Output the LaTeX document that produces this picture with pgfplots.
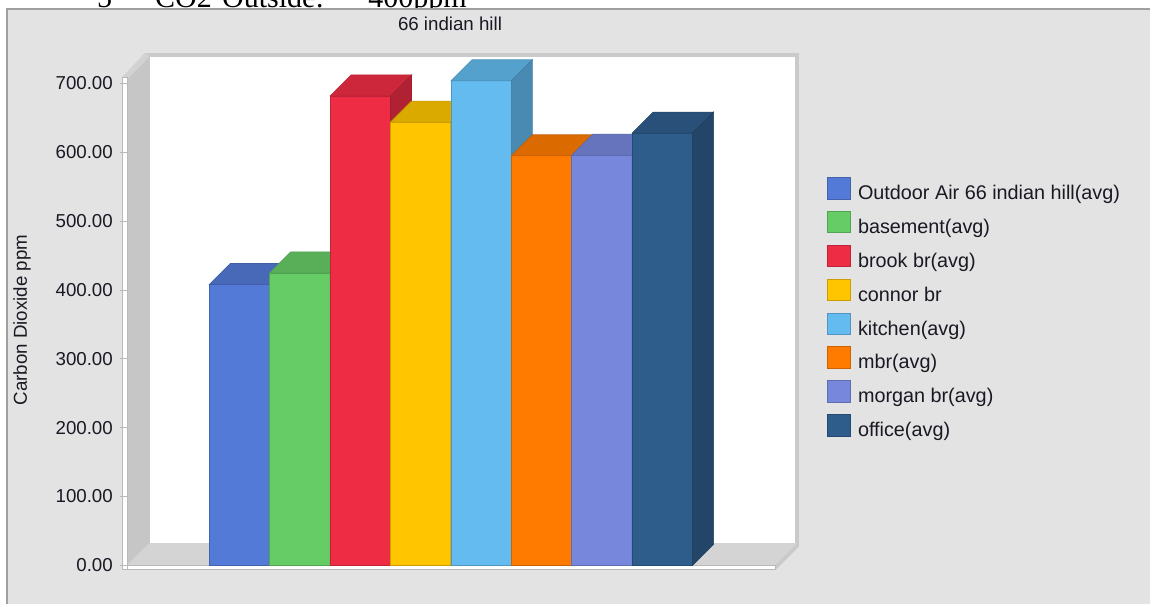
\documentclass[border=0pt]{standalone}
\usepackage{fontspec}
\setmainfont{Liberation Sans}
\newfontfamily\docserif{Liberation Serif}
\usepackage{pgfplots}
\usepackage{pgfplotstable}
\pgfplotsset{compat=1.18}

% frame and wall colours
\definecolor{panelbg}{RGB}{227,227,227}
\definecolor{panelline}{RGB}{160,160,160}
\definecolor{wallrim}{RGB}{202,202,202}
\definecolor{sidewall}{RGB}{198,198,198}
\definecolor{floorc}{RGB}{212,212,212}
\definecolor{rimline}{RGB}{185,185,185}
\definecolor{txt}{RGB}{25,25,35}
% series colours (front faces)
\definecolor{c0}{RGB}{82,122,214}
\definecolor{c1}{RGB}{102,204,102}
\definecolor{c2}{RGB}{238,45,69}
\definecolor{c3}{RGB}{255,198,0}
\definecolor{c4}{RGB}{99,187,240}
\definecolor{c5}{RGB}{255,123,0}
\definecolor{c6}{RGB}{118,135,220}
\definecolor{c7}{RGB}{46,93,140}

\newcommand{\lbl}{\fontsize{18.7}{22}\selectfont}
\newcommand{\lgd}{\fontsize{19.8}{23}\selectfont}

% average CO2 per location (ppm)
\pgfplotstableread{
idx ppm
0 408
1 425
2 682
3 644
4 704
5 595
6 596
7 628
}\cotwo

% depth of the 3D bars, in axis units
\def\dx{0.3477}
\def\dy{30.5}

% one 3D bar: front face (ybar), top face, right side face
\newcommand{\threedbar}[3]{%
  \pgfplotstablegetelem{#1}{ppm}\of\cotwo
  \pgfmathsetmacro{\v}{\pgfplotsretval}%
  \pgfmathsetmacro{\vt}{\v+\dy}%
  \pgfmathsetmacro{\xl}{#1-0.5}%
  \pgfmathsetmacro{\xr}{#1+0.5}%
  \pgfmathsetmacro{\xlb}{#1-0.5+\dx}%
  \pgfmathsetmacro{\xrb}{#1+0.5+\dx}%
  \addplot[ybar, bar width=1, bar shift=0pt, fill=#2, draw=#2!80!black, line width=0.6pt,
    legend image code/.code={\draw[fill=#2, draw=#2!80!black, line width=0.8pt] (0pt,-4pt) rectangle (22.6pt,17.6pt);}]
    coordinates {(#1,\v)};
  \addlegendentry{#3}
  \addplot[forget plot, fill=#2!86!black, draw=#2!78!black, line width=0.6pt]
    coordinates {(\xl,\v) (\xr,\v) (\xrb,\vt) (\xlb,\vt)} -- cycle;
  \addplot[forget plot, fill=#2!74!black, draw=#2!68!black, line width=0.6pt]
    coordinates {(\xr,0) (\xrb,\dy) (\xrb,\vt) (\xr,\v)} -- cycle;
}

\begin{document}
\begin{tikzpicture}
\useasboundingbox (0,0) rectangle (1150pt,603pt);
\clip (0,0) rectangle (1150pt,603pt);
\fill[white] (0,0) rectangle (1150pt,603pt);

\begin{scope}[x=1pt, y=-1pt, yshift=603pt]
  % heading line of the page above the chart
  \begin{scope}[every node/.style={anchor=base west, inner sep=0pt, font=\docserif\fontsize{30}{34}\selectfont}]
    \node at (97,7.5) {5};
    \node at (155,7.5) {CO2};
    \node at (222,7.5) {Outside:};
    \node at (352,7.5) {\textasciitilde400ppm};
  \end{scope}
  % chart panel
  \fill[panelbg] (7,9) rectangle (1160,615);
  \draw[panelline, line width=1.2pt] (7,615) -- (7,9) -- (1160,9);
  % title and y label
  \node[anchor=base, inner sep=0pt, font=\lbl, text=txt] at (450,30.5) {66 indian hill};
  \node[rotate=90, inner sep=0pt, font=\lbl, text=txt] at (22,320) {Carbon Dioxide ppm};
  % back wall with its rim
  \fill[wallrim] (145,52.7) rectangle (798.5,547);
  \fill[white] (149.5,56.7) rectangle (794.5,543);
  % left wall
  \fill[sidewall] (127,565.4) -- (149.5,543) -- (149.5,56.7) -- (127,79) -- cycle;
  \fill[wallrim!85!white] (122,77.5) -- (145,52.7) -- (149.5,56.7) -- (127,79) -- cycle;
  % floor
  \fill[floorc] (127,565.4) -- (775,565.4) -- (797.5,543) -- (149.5,543) -- cycle;
  \fill[wallrim] (775,565.4) -- (797.5,543) -- (798.5,547) -- (776,569.5) -- cycle;
  \filldraw[fill=white, draw=rimline, line width=0.6pt] (127,565.4) rectangle (775,569.5);
  % y axis strip
  \filldraw[fill=white, draw=rimline, line width=0.6pt] (122,77.5) rectangle (127,569.5);
\end{scope}

\begin{axis}[
  at={(127pt,37.6pt)}, anchor=south west,
  scale only axis, width=648pt, height=481.9pt,
  xmin=-1.863, xmax=8.865, ymin=0, ymax=700,
  clip=false,
  axis lines*=left,
  x axis line style={draw=none}, y axis line style={draw=none},
  xtick=\empty,
  ytick={0,100,...,700},
  tick align=outside, major tick length=7pt,
  ytick style={draw=rimline, line width=1pt},
  /pgf/number format/assume math mode=true,
  yticklabel style={font=\lbl, text=txt, inner sep=0pt, xshift=-7pt,
    /pgf/number format/fixed, /pgf/number format/fixed zerofill,
    /pgf/number format/precision=2},
  legend cell align=left,
  legend style={draw=none, fill=none, inner sep=0pt,
    at={(axis description cs:1.0798,0.8066)}, anchor=north west,
    font=\lgd, text=txt, row sep=7.4pt,
    nodes={inner sep=0pt, text height=13pt, text depth=4pt},
    /tikz/every odd column/.append style={column sep=7.7pt}},
]
  \threedbar{0}{c0}{Outdoor Air 66 indian hill(avg)}
  \threedbar{1}{c1}{basement(avg)}
  \threedbar{2}{c2}{brook br(avg)}
  \threedbar{3}{c3}{connor br}
  \threedbar{4}{c4}{kitchen(avg)}
  \threedbar{5}{c5}{mbr(avg)}
  \threedbar{6}{c6}{morgan br(avg)}
  \threedbar{7}{c7}{office(avg)}
\end{axis}
\end{tikzpicture}
\end{document}
